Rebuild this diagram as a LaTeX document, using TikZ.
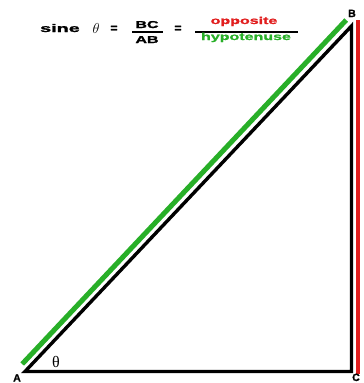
\documentclass[tikz,border=0pt]{standalone}
\usepackage{fontspec}
\setmainfont{Liberation Sans}
\newfontfamily\thetafont{Liberation Serif}
\newfontfamily\heavyfont[FakeBold=1.2]{Liberation Sans Bold}
\definecolor{hypgreen}{RGB}{40,175,40}
\definecolor{oppred}{RGB}{225,30,30}
\begin{document}
\begin{tikzpicture}[x=1pt,y=-1pt,
  vlabel/.style={inner sep=0pt,anchor=base,font=\fontsize{10.5}{10.5}\selectfont\heavyfont},
  ftext/.style={inner sep=0pt,anchor=base},
  side/.style={line width=3.4pt,black},
]
\useasboundingbox (0,0) rectangle (364,383);
% triangle
\coordinate (A) at (25,371.5);
\coordinate (B) at (351.5,26);
\coordinate (C) at (351.5,371.5);
\draw[side] (A) -- (B) -- (C) -- cycle;
% hypotenuse and opposite highlights
\coordinate (G1) at (22.2,364);
\coordinate (G2) at (346.2,20);
\draw[hypgreen,line width=5pt] (G1) -- (G2);
\coordinate (R1) at (357.5,20);
\coordinate (R2) at (357.5,374);
\draw[oppred,line width=4pt] (R1) -- (R2);
% vertex labels
\node[vlabel] (lA) at (17,381.5) {A};
\node[vlabel] (lB) at (352,17) {B};
\node[vlabel] (lC) at (356,381) {C};
\node[ftext,font=\fontsize{16}{16}\selectfont\thetafont] (theta) at (56,367) {θ};
% formula
\node[ftext] (sine) at (60,32) {\scalebox{1.8}[1]{\fontsize{11}{11}\selectfont\heavyfont sine}};
\node[ftext] (th) at (96,33) {\fontsize{14}{14}\selectfont$\theta$};
\node[ftext] (eq1) at (114,32) {\fontsize{12}{12}\selectfont\heavyfont =};
\node[ftext] (bc) at (147,28) {\scalebox{1.6}[1]{\fontsize{10}{10}\selectfont\heavyfont BC}};
\coordinate (f1a) at (132,32);
\coordinate (f1b) at (163,32);
\draw[line width=1.8pt] (f1a) -- (f1b);
\node[ftext] (ab) at (147,43) {\scalebox{1.6}[1]{\fontsize{10}{10}\selectfont\heavyfont AB}};
\node[ftext] (eq2) at (178,32) {\fontsize{12}{12}\selectfont\heavyfont =};
\node[ftext,text=oppred] (opp) at (244,24) {\scalebox{1.6}[1]{\fontsize{10}{10}\selectfont\heavyfont opposite}};
\coordinate (f2a) at (195,32);
\coordinate (f2b) at (298,32);
\draw[line width=1.8pt] (f2a) -- (f2b);
\node[ftext,text=hypgreen] (hyp) at (246,40) {\scalebox{1.6}[1]{\fontsize{10}{10}\selectfont\heavyfont hypotenuse}};
\end{tikzpicture}
\end{document}
